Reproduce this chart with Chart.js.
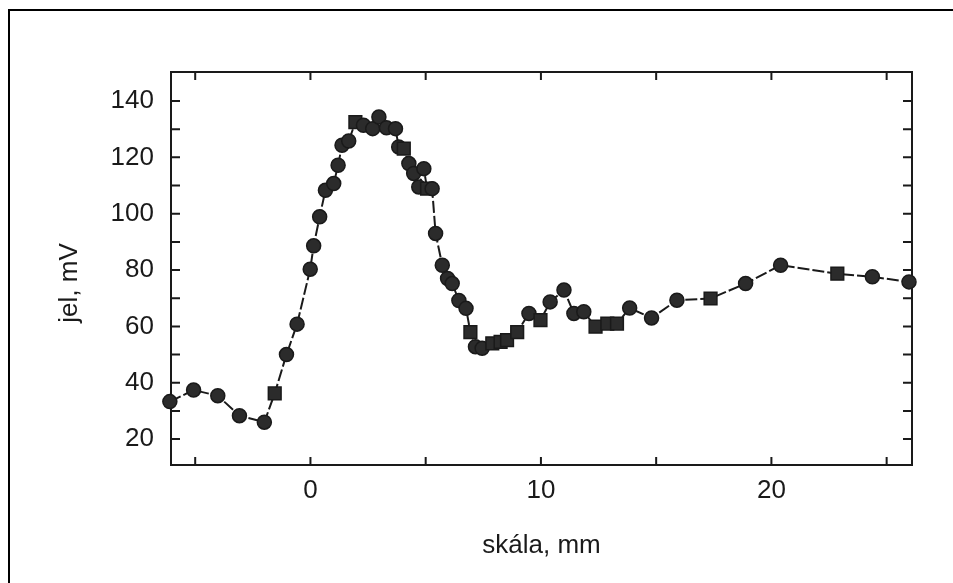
<!DOCTYPE html>
<html>
<head>
<meta charset="utf-8">
<script src="https://cdn.jsdelivr.net/npm/chart.js@4.4.1/dist/chart.umd.min.js"></script>
<style>
  body { margin: 0; background: #fff; }
  #frame { position: absolute; left: 8px; top: 9px; width: 960px; height: 590px;
           border-top: 2px solid #000; border-left: 2px solid #000; }
  #wrap { position: absolute; left: 0; top: 0; width: 953px; height: 583px; }
</style>
</head>
<body>
<div id="frame"></div>
<div id="wrap"><canvas id="jelChart"></canvas></div>
<script>
// adatok
const skala = [-6.1, -5.07, -4.02, -3.08, -2.0, -1.55, -1.04, -0.58, -0.01, 0.14,
  0.40, 0.65, 1.01, 1.2, 1.37, 1.66, 1.95, 2.3, 2.7, 2.97,
  3.3, 3.69, 3.83, 4.05, 4.27, 4.48, 4.70, 4.92, 5.06, 5.28,
  5.43, 5.72, 5.95, 6.15, 6.44, 6.75, 6.94, 7.16, 7.45, 7.89,
  8.25, 8.53, 8.97, 9.48, 9.98, 10.4, 11.0, 11.43, 11.86, 12.37,
  12.88, 13.3, 13.85, 14.8, 15.9, 17.36, 18.88, 20.4, 22.86, 24.38, 25.97];
const jel = [33.3, 37.4, 35.4, 28.3, 26.0, 36.2, 50.0, 60.8, 80.3, 88.6,
  98.9, 108.3, 110.7, 117.2, 124.3, 125.8, 132.5, 131.4, 130.2, 134.3,
  130.5, 130.2, 123.7, 123.1, 117.8, 114.3, 109.5, 116.0, 108.9, 108.9,
  93.0, 81.7, 77.0, 75.2, 69.2, 66.4, 58.0, 52.8, 52.2, 54.0,
  54.5, 55.1, 58.0, 64.6, 62.2, 68.7, 72.9, 64.6, 65.2, 59.9,
  61.0, 61.0, 66.5, 63.0, 69.3, 69.9, 75.2, 81.7, 78.7, 77.6, 75.8];
const xLabelTicks = [0, 10, 20];
const yLabelTicks = [20, 40, 60, 80, 100, 120, 140];

// jelölők: ezek a pontok négyzetesek
const negyzetes = new Set([5, 16, 23, 28, 36, 39, 40, 41, 42, 44, 49, 50, 51, 55, 58]);

const FONT = '"Liberation Sans", Arial, sans-serif';
const INK = '#1a1a1a';

// keret + befelé álló osztások
const keretPlugin = {
    id: 'keret',
    beforeDatasetsDraw(chart) {
        const { ctx, chartArea: a, scales: { x, y } } = chart;
        ctx.save();
        ctx.strokeStyle = INK;
        ctx.lineWidth = 2;
        ctx.strokeRect(a.left, a.top, a.right - a.left, a.bottom - a.top);
        ctx.beginPath();
        for (let v = -5; v <= 25; v += 5) {
            const px = x.getPixelForValue(v);
            ctx.moveTo(px, a.bottom); ctx.lineTo(px, a.bottom - 8);
            ctx.moveTo(px, a.top); ctx.lineTo(px, a.top + 8);
        }
        for (let v = 20; v <= 140; v += 10) {
            const py = y.getPixelForValue(v);
            ctx.moveTo(a.left, py); ctx.lineTo(a.left + 9, py);
            ctx.moveTo(a.right, py); ctx.lineTo(a.right - 9, py);
        }
        ctx.stroke();
        ctx.restore();
    },
    afterDraw(chart) {
        // y tengely felirata
        const { ctx } = chart;
        ctx.save();
        ctx.translate(70, 283);
        ctx.rotate(-Math.PI / 2);
        ctx.font = '26px ' + FONT;
        ctx.fillStyle = INK;
        ctx.textAlign = 'center';
        ctx.textBaseline = 'middle';
        ctx.fillText('jel, mV', 0, 0);
        ctx.restore();
    }
};

const ctx = document.getElementById('jelChart');

new Chart(ctx, {
    type: 'line',
    data: {
        datasets: [{
            data: skala.map((v, i) => ({ x: v, y: jel[i] })),
            borderColor: INK,
            borderWidth: 2,
            borderDash: [12, 3],
            backgroundColor: '#2b2b2b',
            pointBackgroundColor: '#2b2b2b',
            pointBorderColor: '#1a1a1a',
            pointBorderWidth: 1.5,
            pointRadius: c => negyzetes.has(c.dataIndex) ? 9 : 7,
            pointStyle: c => negyzetes.has(c.dataIndex) ? 'rect' : 'circle',
            tension: 0,
            clip: false
        }]
    },
    options: {
        responsive: true,
        maintainAspectRatio: false,
        animation: false,
        layout: { padding: { left: 0, right: 41, top: 72, bottom: 0 } },
        plugins: {
            legend: { display: false },
            tooltip: { enabled: false }
        },
        scales: {
            x: {
                type: 'linear',
                min: -6.05,
                max: 26.1,
                afterFit: s => { s.height = 118; },
                afterBuildTicks: s => { s.ticks = xLabelTicks.map(v => ({ value: v })); },
                grid: { display: false, drawTicks: false },
                border: { display: false },
                ticks: {
                    padding: 10,
                    color: INK,
                    font: { size: 26, family: FONT }
                },
                title: {
                    display: true,
                    text: 'skála, mm',
                    color: INK,
                    font: { size: 26, family: FONT },
                    padding: { top: 0, bottom: 22 }
                }
            },
            y: {
                min: 10.8,
                max: 150.3,
                afterFit: s => { s.width = 171; },
                afterBuildTicks: s => { s.ticks = yLabelTicks.map(v => ({ value: v })); },
                grid: { display: false, drawTicks: false },
                border: { display: false },
                ticks: {
                    padding: 17,
                    color: INK,
                    font: { size: 26, family: FONT }
                }
            }
        }
    },
    plugins: [keretPlugin]
});
</script>
</body>
</html>
